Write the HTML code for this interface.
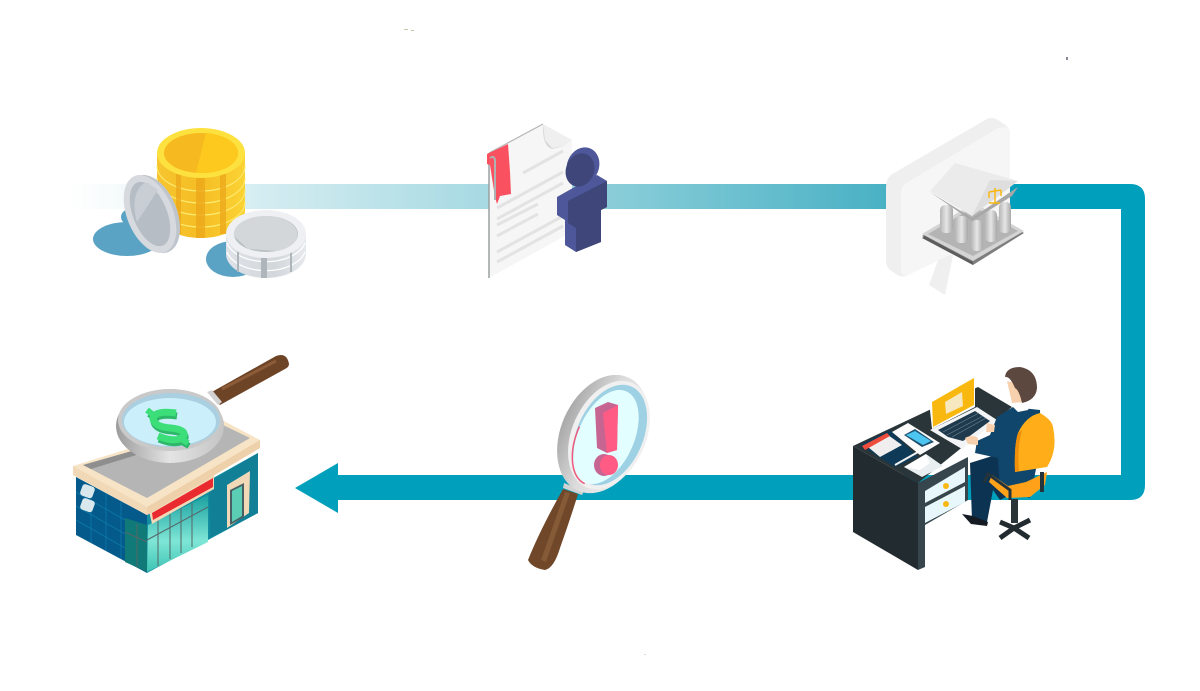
<!DOCTYPE html>
<html><head><meta charset="utf-8"><style>html,body{margin:0;padding:0;background:#fff}svg{display:block}</style></head><body>
<svg width="1200" height="691" viewBox="0 0 1200 691" xmlns="http://www.w3.org/2000/svg">
<defs>
<linearGradient id="band" gradientUnits="userSpaceOnUse" x1="69" y1="0" x2="1020" y2="0"><stop offset="0" stop-color="#1e9fb6" stop-opacity="0"/><stop offset=".05" stop-color="#1e9fb6" stop-opacity=".04"/><stop offset=".2" stop-color="#1e9fb6" stop-opacity=".19"/><stop offset=".45" stop-color="#1e9fb6" stop-opacity=".4"/><stop offset=".85" stop-color="#1e9fb6" stop-opacity=".8"/><stop offset="1" stop-color="#00a0bc"/></linearGradient>
<linearGradient id="gold" x1="0" x2="1" y1="0" y2="0"><stop offset="0" stop-color="#f6c52f"/><stop offset=".5" stop-color="#f5bd24"/><stop offset="1" stop-color="#fbd334"/></linearGradient>
<linearGradient id="sil" x1="0" x2="1" y1="0" y2="0"><stop offset="0" stop-color="#dfe3e8"/><stop offset=".6" stop-color="#d2d7dc"/><stop offset="1" stop-color="#e6e9ec"/></linearGradient>
<linearGradient id="col" x1="0" x2="1" y1="0" y2="0"><stop offset="0" stop-color="#b5b5b5"/><stop offset=".5" stop-color="#e6e6e6"/><stop offset="1" stop-color="#a8a8a8"/></linearGradient>
<linearGradient id="rim" x1="0" x2="1" y1="0" y2="0"><stop offset="0" stop-color="#a9a9a9"/><stop offset=".45" stop-color="#dcdcdc"/><stop offset="1" stop-color="#f2f2f2"/></linearGradient>
<linearGradient id="rim2" x1="0" x2="1" y1="0" y2="0"><stop offset="0" stop-color="#9c9c9c"/><stop offset=".5" stop-color="#e4e4e4"/><stop offset="1" stop-color="#c4c4c4"/></linearGradient>
<linearGradient id="glass" x1="0" x2="0" y1="0" y2="1"><stop offset="0" stop-color="#1aa0a0"/><stop offset=".6" stop-color="#7fe6d6"/><stop offset="1" stop-color="#3cc4b4"/></linearGradient>
</defs>

<rect x="69" y="184" width="951" height="25" fill="url(#band)"/>
<path d="M1010 184H1130Q1145 184 1145 199V485Q1145 500 1130 500H1030V475H1121V209H1010Z" fill="#00a0bc"/>
<rect x="336" y="475" width="720" height="25" fill="#00a0bc"/>
<polygon points="295,488 338,463 338,513" fill="#00a0bc"/>

<!-- Coins -->
<ellipse cx="127" cy="239" rx="34" ry="17" fill="#5ba3c4"/>
<ellipse cx="130" cy="217" rx="9" ry="8" fill="#5ba3c4"/>
<ellipse cx="233" cy="259" rx="27" ry="18" fill="#5ba3c4"/>
<path d="M157 153V213A44 25 0 0 0 245 213V153Z" fill="url(#gold)"/>
<g stroke="#fdea6c" stroke-width="1.2" fill="none"><path d="M157 166A44 25 0 0 0 245 166"/><path d="M157 178A44 25 0 0 0 245 178"/><path d="M157 190A44 25 0 0 0 245 190"/><path d="M157 202A44 25 0 0 0 245 202"/></g>
<g fill="#eda91c" opacity=".8"><rect x="196" y="178" width="9" height="60"/><rect x="220" y="174" width="6" height="60"/><rect x="176" y="174" width="5" height="60"/></g>
<ellipse cx="201" cy="153" rx="44" ry="25" fill="#fde13f"/>
<ellipse cx="201" cy="153" rx="37" ry="20" fill="#f6b91f"/>
<path d="M206 133A37 20 0 0 1 238 153 37 20 0 0 1 208 173L196 173Z" fill="#fdc91f"/>
<ellipse cx="153" cy="214" rx="24" ry="41" transform="rotate(-22 153 214)" fill="#bfc5cc"/>
<ellipse cx="150" cy="214" rx="23" ry="41" transform="rotate(-22 150 214)" fill="#d6dade"/>
<ellipse cx="150" cy="214" rx="17" ry="34" transform="rotate(-22 150 214)" fill="#b6bdc5"/>
<path d="M137 192Q142 182 148 183L158 190 137 222Q132 205 137 192Z" fill="#c9ced4"/>
<path d="M226 234V254A40 24 0 0 0 306 254V234Z" fill="url(#sil)"/>
<g stroke="#fff" stroke-width="1.2" fill="none"><path d="M227 243A40 24 0 0 0 305 243"/><path d="M227 252A40 24 0 0 0 305 252"/></g>
<g fill="#aeb5bb"><rect x="261" y="258" width="6" height="20"/><rect x="290" y="252" width="2" height="20"/><rect x="237" y="252" width="2" height="20"/></g>
<ellipse cx="266" cy="234" rx="40" ry="24" fill="#eef0f3"/>
<ellipse cx="266" cy="234" rx="32" ry="18" fill="#b9c0c6"/>
<path d="M234 236A32 18 0 0 1 266 216 32 18 0 0 1 296 229 32 18 0 0 1 278 251L248 249Z" fill="#d3d7da"/>

<!-- Document -->
<polygon points="489,153 543,124 572,140 572,232 489,278" fill="#f6f6f6"/>
<path d="M489 153V278" stroke="#9aa0a0" stroke-width="1.5"/>
<path d="M489 153L543 124" stroke="#b5b8b8" stroke-width="1.2"/>
<path d="M543 124Q542 146 552 149L564 146Q550 146 546 128Z" fill="#d8d8d8"/>
<polygon points="543,124 572,140 564,146 552,148 545,140" fill="#efefef"/>
<g stroke="#e3e3e3" stroke-width="3" fill="none"><path d="M523 173L563 151"/><path d="M497 208L563 172"/><path d="M497 219L563 183"/><path d="M497 225L538 204"/><path d="M497 236L538 214"/><path d="M497 252L563 216"/><path d="M497 262L563 226"/></g>
<path d="M487 154L508 144 510 172 511 194 500 196 497 204 495 197 490 165 487 164Z" fill="#f9515f"/>
<path d="M490 158Q494 155 495 160V200" stroke="#aeb2b2" stroke-width="2" fill="none"/>
<polygon points="597,175 607,181 607,207 601,210 601,242 576,252 565,245 565,220 557,215 557,197 580,184" fill="#4d5799"/>
<polygon points="568,201 607,181 607,207 601,210 601,242 576,252 576,228 568,223" fill="#3f4679"/>
<ellipse cx="583" cy="166" rx="16" ry="19" transform="rotate(22 583 166)" fill="#4d5799"/>
<ellipse cx="580" cy="170" rx="14" ry="17" transform="rotate(22 580 170)" fill="#3f4679"/>

<!-- Bank monitor -->
<polygon points="940,255 953,255 945,295 929,285" fill="#efefef"/>
<path d="M886 187Q886 177 894 173L985 120Q992 116 998 120L1005 125Q1010 128 1010 136V218Q1010 226 1002 230L910 274Q902 279 896 274L890 270Q886 267 886 260Z" fill="#efefef"/>
<path d="M901 193Q901 186 908 182L998 128 1005 127Q1010 128 1010 136V218Q1010 226 1002 230L910 274Q902 279 901 268Z" fill="#f6f6f6"/>
<polygon points="922,236 974,205 1024,233 973,265" fill="#7e7e7e"/>
<polygon points="922,234 974,203 1024,231 973,261" fill="#d4d4d4"/>
<polygon points="928,234 974,207 1018,231 973,256" fill="#b4b4b4"/>
<polygon points="925,236 973,262 973,265 922,238" fill="#5d5d5d"/>
<rect x="940" y="205" width="13" height="28" rx="5" fill="url(#col)"/>
<rect x="955" y="216" width="13" height="27" rx="5" fill="url(#col)"/>
<rect x="985" y="210" width="12" height="32" rx="5" fill="url(#col)"/>
<rect x="999" y="202" width="12" height="31" rx="5" fill="url(#col)"/>
<rect x="971" y="220" width="12" height="31" rx="5" fill="url(#col)"/>
<polygon points="930,192 972,218 1018,187 1012,196 972,221" fill="#a7a7a7"/>
<polygon points="955,163 1018,181 972,216 930,191" fill="#ebebeb"/>
<polygon points="990,180 1018,181 972,216" fill="#dedede"/>
<g stroke="#f9b810" stroke-width="1.5" fill="none"><path d="M995 188V203M989 203H1000M989 192L1001 190"/><path d="M989 192V198M1001 190V196"/></g>

<!-- Desk -->
<polygon points="853,446 978,387 1012,407 918,483" fill="#2a3539"/>
<polygon points="853,446 918,483 918,570 853,532" fill="#222c30"/>
<polygon points="918,483 968,457 968,500 925,525 925,567 918,570" fill="#36464c"/>
<polygon points="925,491 965,467 965,482 925,503" fill="#e7f7fb"/>
<polygon points="925,507 965,486 965,502 925,523" fill="#e7f7fb"/>
<circle cx="946" cy="486" r="3" fill="#f9b810"/><circle cx="946" cy="504" r="3" fill="#f9b810"/>
<polygon points="860,445 890,430 918,457 895,467" fill="#0e3a58"/>
<polygon points="868,447 888,435 902,445 880,457" fill="#f0eeee"/>
<polygon points="862,446 887,433 890,436 865,450" fill="#ee4c3c"/>
<path d="M895 465L918 452" stroke="#f2f2f2" stroke-width="2"/>
<polygon points="892,432 908,423 940,443 920,455" fill="#fbfbfb"/>
<polygon points="904,435 915,429 934,442 922,447" fill="#1f4f6e"/>
<polygon points="906,435 915,431 931,441 923,445" fill="#4cc6f0"/>
<polygon points="904,467 926,454 943,466 922,477" fill="#e9eef0"/>
<polygon points="904,467 926,454 930,463 920,470" fill="#fff"/>
<polygon points="930,430 977,407 997,420 962,449" fill="#f2f4f5"/>
<polygon points="938,430 975,411 990,421 963,441 948,437" fill="#1f3a4c"/>
<g stroke="#6b8696" stroke-width=".7" fill="none"><path d="M943 432L979 413M947 435L983 416M952 437L986 418"/></g>
<polygon points="929,401 975,374 975,407 932,429" fill="#fff"/>
<polygon points="932,402 974,378 974,405 933,427" fill="#f9b810"/>
<polygon points="945,402 962,392 963,406 946,414" fill="#f7e8c0"/>
<path d="M970 463L1005 452 1020 490 1000 500 993 490 987 522 972 520Z" fill="#0c3352"/>
<path d="M962 514L973 516 988 522 987 526 971 524Z" fill="#141b22"/>
<path d="M997 417L1013 407 1040 410 1041 445 1030 498 1000 488 998 458 975 453 977 441 990 435Z" fill="#10466b"/>
<path d="M1013 407L1030 406 1028 410 1018 412Z" fill="#fff"/>
<path d="M1007 381L1022 385 1024 402 1012 403Z" fill="#f7d1ae"/>
<path d="M1005 377Q1006 367 1020 367 1037 370 1037 388 1036 400 1022 403 1019 390 1015 388 1010 376 1005 377Z" fill="#5d4840"/>
<path d="M965 438Q972 434 978 438L978 445 968 444Z" fill="#f7d1ae"/>
<path d="M987 423L995 425 994 432 986 432Z" fill="#f7d1ae"/>
<path d="M989 482L992 475 1008 486 1026 482 1047 472 1045 485 1030 497 1007 498Z" fill="#ffa21a"/>
<path d="M984 482L988 474 1010 490 1010 500" stroke="#25333a" stroke-width="3" fill="none"/>
<path d="M1042 472V492" stroke="#25333a" stroke-width="4"/>
<path d="M1015 472Q1014 445 1018 433 1026 416 1040 413 1052 420 1053 427 1058 450 1047 467Z" fill="#ffae1a"/>
<path d="M1018 433Q1014 445 1015 472L1019 471Q1017 448 1022 430Z" fill="#ef8e08"/>
<rect x="1011" y="499" width="7" height="24" fill="#2a3539"/>
<path d="M1000 522L1014 528 1030 520M1014 528L1000 538M1014 528L1029 538" stroke="#222c30" stroke-width="5" fill="none"/>

<!-- Red magnifier -->
<path d="M563 489L578 494Q570 520 560 548 554 568 545 570 532 568 528 560 540 530 563 489Z" fill="#704729"/>
<path d="M565 492L570 493 546 562 541 560Z" fill="#855a37"/>
<polygon points="564,483 584,491 582,495 563,488" fill="#d2d2d2"/>
<ellipse cx="603" cy="434" rx="42" ry="62" transform="rotate(24 603 434)" fill="url(#rim)"/>
<ellipse cx="609" cy="435" rx="37" ry="57" transform="rotate(24 609 435)" fill="#f0f0f0"/>
<ellipse cx="610" cy="435" rx="33" ry="53" transform="rotate(24 610 435)" fill="#9ed1e4"/>
<ellipse cx="606" cy="437" rx="28" ry="50" transform="rotate(24 606 437)" fill="#e3feff"/>
<path d="M577 438A28 50 0 0 0 605 488" transform="rotate(24 605 438)" stroke="#ec5b7d" stroke-width="1.5" fill="none"/>
<polygon points="595,408 608,402 618,405 617,450 607,453 597,448" fill="#c76592"/>
<polygon points="603,413 618,405 617,450 607,453" fill="#ff5b84"/>
<ellipse cx="604" cy="465" rx="10" ry="11" fill="#c76592"/>
<ellipse cx="609" cy="465" rx="9" ry="10" fill="#ff5b84"/>

<!-- Store -->
<polygon points="76,477 147,515 147,573 76,535" fill="#045b8b"/>
<g stroke="#0d79a9" stroke-width=".8" fill="none"><path d="M76 492L125 520M76 506L125 534M76 520L125 548M91 485V543M106 493V551M121 501V559"/></g>
<polygon points="147,515 258,453 258,513 147,573" fill="#128ea1"/>
<polygon points="125,518 147,525 147,572 125,562" fill="#0f7a78"/>
<polygon points="148,525 208,495 208,542 147,572" fill="url(#glass)"/>
<g stroke="#566" stroke-width="1" fill="none"><path d="M147 540L208 507M158 520V566M170 514V559M181 508V553M192 503V547M125 532L147 542M137 524V567"/></g>
<polygon points="209,482 258,453 258,513 210,538" fill="#117f96"/>
<polygon points="227,485 250,471 249,513 227,528" fill="#f1d9b8"/>
<polygon points="230,490 244,483 244,517 230,525" fill="#4a5f63"/>
<polygon points="232,491 242,486 242,516 232,522" fill="#5bcdb4"/>
<polygon points="149,511 214,474 214,489 152,524" fill="#f1d9b8"/>
<polygon points="152,513 213,478 213,487 153,520" fill="#e92a2f"/>
<rect x="81" y="485" width="13" height="12" rx="3" fill="#d8e8ec" transform="rotate(20 87 491)"/>
<rect x="81" y="499" width="13" height="12" rx="3" fill="#d8e8ec" transform="rotate(20 87 505)"/>
<polygon points="73,466 222,420 260,440 260,448 147,515 73,475" fill="#f7e4c6"/>
<polygon points="73,466 147,507 147,515 73,475" fill="#f1d9b8"/>
<polygon points="147,507 260,440 260,448 147,515" fill="#eed0aa"/>
<polygon points="83,465 223,425 250,438 147,498" fill="#b5b5b5"/>
<polygon points="83,465 223,425 224,428 91,469" fill="#8e8e8e"/>
<path d="M210 393L276 356Q287 352 289 364 289 367 285 369L220 405Z" fill="#6e4427"/>
<path d="M222 389L276 361" stroke="#8c5b38" stroke-width="3"/>
<polygon points="207,392 212,390 222,402 218,405" fill="#d2d2d2"/>
<ellipse cx="170" cy="426" rx="54" ry="37" fill="url(#rim2)"/>
<ellipse cx="170" cy="420" rx="52" ry="31" fill="#c9c9c9"/>
<ellipse cx="171" cy="420" rx="49" ry="27" fill="#a9cfe0"/>
<ellipse cx="170" cy="422" rx="46" ry="24" fill="#ccf0fb"/>
<g fill="none" stroke-linecap="butt">
<g stroke="#2db869" transform="translate(1 3)"><path d="M176 413Q154 410 153 419 155 427 171 428 188 430 183 437 175 443 158 436" stroke-width="7"/><path d="M148 411L156 417M178 437L188 443" stroke-width="6"/></g>
<path d="M176 413Q154 410 153 419 155 427 171 428 188 430 183 437 175 443 158 436" stroke="#3bde79" stroke-width="7"/>
<path d="M147 410L156 417M178 437L188 443" stroke="#3bde79" stroke-width="6"/>
</g>

<g fill="#c8c4a8"><rect x="404" y="29" width="4" height="1"/><rect x="411" y="30" width="3" height="1"/></g>
<rect x="1066" y="57" width="2" height="3" fill="#889"/>
<rect x="644" y="654" width="2" height="1" fill="#ddd"/>
</svg>
</body></html>
